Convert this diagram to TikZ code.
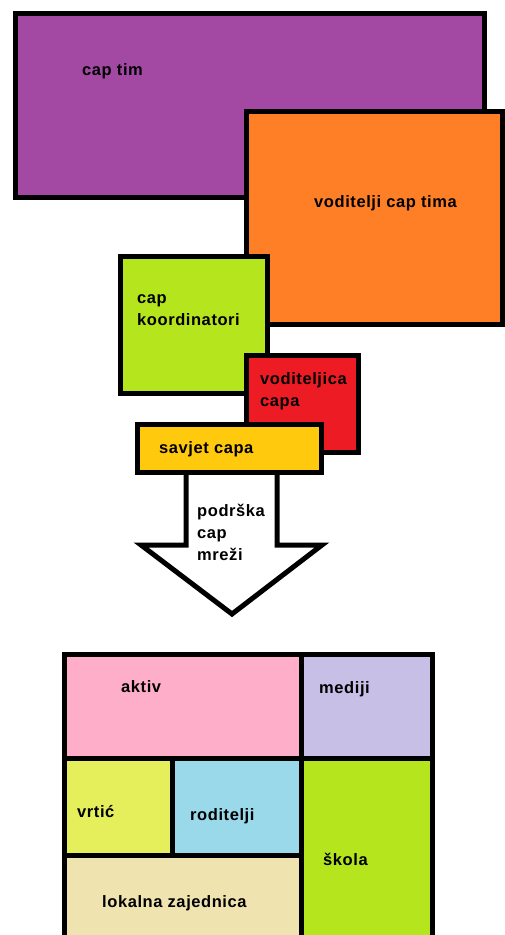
\documentclass[tikz,border=0pt]{standalone}
\usepackage{fontspec}
\setmainfont{Liberation Sans}[LetterSpace=3.5]
\definecolor{cpurple}{HTML}{A349A4}
\definecolor{corange}{HTML}{FF7F27}
\definecolor{cgreen}{HTML}{B5E61D}
\definecolor{cred}{HTML}{ED1C24}
\definecolor{cyellow}{HTML}{FFC90E}
\definecolor{cpink}{HTML}{FFAEC9}
\definecolor{clav}{HTML}{C8BFE7}
\definecolor{cvrtic}{HTML}{E5EF5C}
\definecolor{cblue}{HTML}{99D9EA}
\definecolor{cbeige}{HTML}{EFE4B0}
\tikzset{
  box/.style={draw=black, line width=5pt, inner sep=0pt, outer sep=0pt, rectangle},
  lbl/.style={anchor=base west, inner sep=0pt, font=\bfseries\fontsize{16.5}{22}\selectfont, align=left},
}
\begin{document}
\begin{tikzpicture}[x=1pt,y=-1pt]
\useasboundingbox (0,0) rectangle (505,935);
\clip (0,0) rectangle (505,935);
% top cluster
\node[box, fill=cpurple, minimum width=469pt, minimum height=184pt] (captim) at (250,105.5) {};
\node[box, fill=corange, minimum width=256pt, minimum height=213pt] (vodtim) at (374.5,218) {};
\node[box, fill=cgreen, minimum width=147pt, minimum height=137pt] (koord) at (194,325) {};
\node[box, fill=cred, minimum width=112pt, minimum height=97pt] (vodcapa) at (302.5,404) {};
% arrow
\coordinate (a1) at (186,472);
\coordinate (a2) at (186,545);
\coordinate (a3) at (141,545);
\coordinate (a4) at (232,614);
\coordinate (a5) at (322,545);
\coordinate (a6) at (277,545);
\coordinate (a7) at (277,472);
\draw[line width=5pt, fill=white, line join=miter] (a1) -- (a2) -- (a3) -- (a4) -- (a5) -- (a6) -- (a7);
\node[box, fill=cyellow, minimum width=184pt, minimum height=48pt] (savjet) at (229.5,448.5) {};
% bottom grid
\node[box, fill=cpink, minimum width=236.5pt, minimum height=103.5pt] (aktiv) at (182.75,706.25) {};
\node[box, fill=clav, minimum width=131.5pt, minimum height=103.5pt] (mediji) at (366.75,706.25) {};
\node[box, fill=cvrtic, minimum width=107.5pt, minimum height=97pt] (vrtic) at (118.25,806.5) {};
\node[box, fill=cblue, minimum width=129pt, minimum height=97pt] (roditelji) at (236.5,806.5) {};
\node[box, fill=cgreen, minimum width=131.5pt, minimum height=187pt] (skola) at (366.75,851.5) {};
\node[box, fill=cbeige, minimum width=236.5pt, minimum height=90pt] (lokalna) at (182.75,900) {};
% labels
\node[lbl] (t1) at (82,75) {cap tim};
\node[lbl] (t2) at (314,207) {voditelji cap tima};
\node[lbl] (t3) at (137,325) {cap\\koordinatori};
\node[lbl] (t4) at (260,406) {voditeljica\\capa};
\node[lbl] (t5) at (159,453) {savjet capa};
\node[lbl] (t6) at (197,560) {podrška\\cap\\mreži};
\node[lbl] (t7) at (121,692) {aktiv};
\node[lbl] (t8) at (319,693) {mediji};
\node[lbl] (t9) at (77,817) {vrtić};
\node[lbl] (t10) at (190,820) {roditelji};
\node[lbl] (t11) at (323,865) {škola};
\node[lbl] (t12) at (102,907) {lokalna zajednica};
\end{tikzpicture}
\end{document}
